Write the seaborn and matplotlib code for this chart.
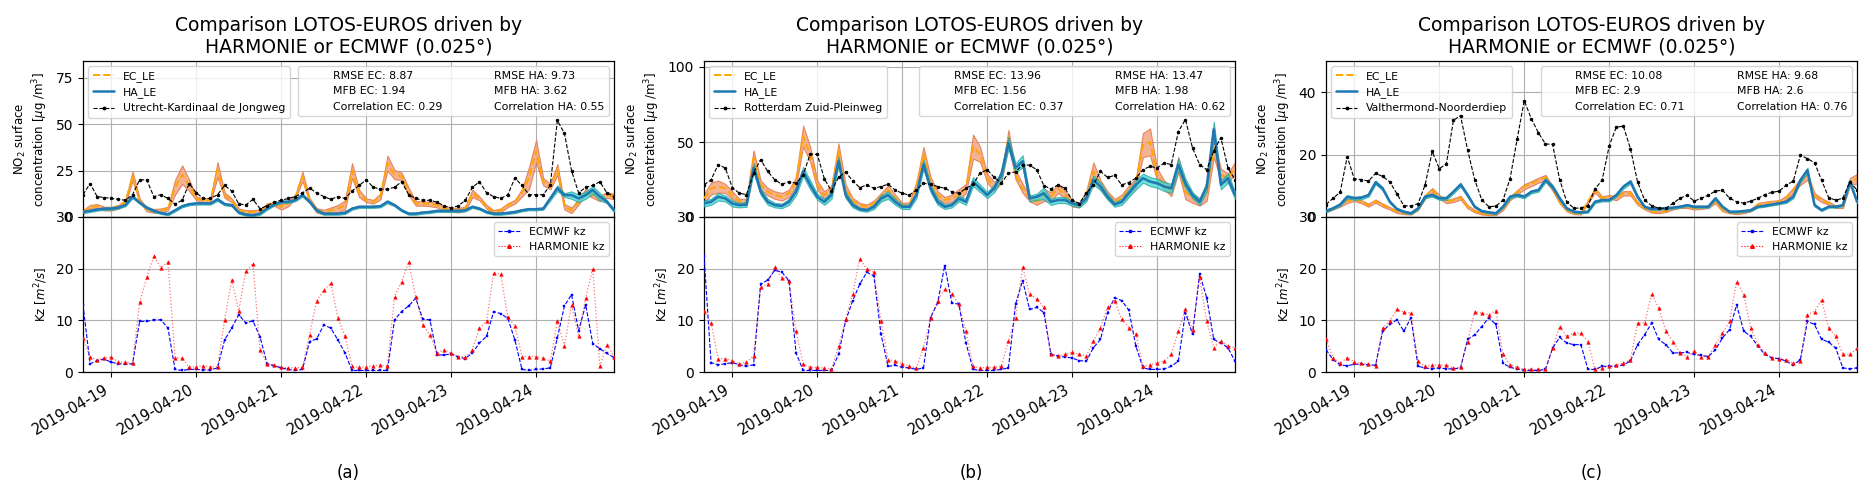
import numpy as np
import pandas as pd
import seaborn as sns
import matplotlib.pyplot as plt
import matplotlib.dates as mdates
from matplotlib.ticker import MultipleLocator
from matplotlib.lines import Line2D

# 2-hourly time axis, 2019-04-18 16:00 .. 2019-04-24 22:00
times = pd.date_range("2019-04-18 16:00", "2019-04-24 22:00", freq="2h")

stations = ["Utrecht-Kardinaal de Jongweg", "Rotterdam Zuid-Pleinweg", "Valthermond-Noorderdiep"]
rmse_ec = [8.87, 13.96, 10.08]
rmse_ha = [9.73, 13.47, 9.68]
mfb_ec = [1.94, 1.56, 2.9]
mfb_ha = [3.62, 1.98, 2.6]
corr_ec = [0.29, 0.37, 0.71]
corr_ha = [0.55, 0.62, 0.76]
panel_tags = ["(a)", "(b)", "(c)"]

# ---- (a) Utrecht ----
obs_a = [12, 18, 11, 10.5, 10, 9.5, 9, 12, 20, 20,
         11, 12, 10, 7, 9, 18, 13, 10, 10, 12,
         17, 14, 7, 6.5, 9.5, 4.5, 6, 8, 9, 10,
         11, 13, 15.5, 13, 11, 9.5, 11, 10, 14, 17,
         20, 16, 15, 15, 16, 19, 12, 10, 9, 9,
         8, 6, 5, 6, 9, 16, 19, 13, 11, 10,
         12, 21, 17, 12, 12, 12, 17, 52, 45, 25,
         13, 16, 17, 19, 13, 11]
ec_a = [2.7, 5.5, 5.8, 4.5, 4.5, 5.5, 8.2, 22, 9, 4,
        3.3, 3.6, 4.5, 16, 22.8, 17, 10, 9, 9, 25.5,
        11.8, 9, 3.6, 2.7, 2.7, 3, 6.4, 7, 5.5, 7.3,
        11, 21.9, 9, 3.6, 2.7, 3.6, 4.5, 6.4, 25, 12.7,
        9, 8.2, 11, 29, 22.8, 21.9, 13.7, 7.3, 7.3, 7,
        6.4, 4.5, 4, 3.6, 4.5, 12.7, 10, 5.5, 2.7, 3.6,
        6.4, 8.2, 13, 21, 35.5, 19, 16.4, 25.5, 5.5, 3.6,
        8.2, 13.7, 11.8, 10, 11.8, 11]
ec_spread_a = [1, 1, 1.2, 1, 1, 1, 1, 2.5, 1, 1,
               1, 1, 1, 4, 5, 3, 1, 1, 1, 4,
               1.5, 1, 1, 1, 1, 1, 1, 1, 1.5, 1.5,
               1, 2.5, 1.2, 1.2, 1.2, 1.5, 2, 2.5, 4, 2,
               1, 1, 1.5, 4, 2.5, 2, 2, 1.2, 1.2, 1.2,
               1.2, 1.2, 1.2, 1.2, 1.2, 2, 1, 1, 1, 1,
               1, 1, 2, 6, 6, 2, 1.5, 3, 1.5, 1.5,
               1.5, 1.5, 1.5, 1.5, 1.5, 1.5]
ha_a = [2.7, 3.3, 4, 4.5, 4.5, 5.1, 6.4, 11, 7.7, 5.1,
        3.3, 2.2, 1.5, 3.6, 5.8, 6.9, 7.3, 7.3, 7.3, 9.5,
        6.9, 6.4, 2.4, 1.3, 0.9, 1.8, 4.5, 6.7, 8.2, 8.2,
        9.1, 11.8, 8.2, 3.6, 1.8, 1.8, 1.8, 2.2, 4.5, 5.5,
        5.5, 5.5, 5.8, 8.2, 6.4, 3.6, 1.8, 1.8, 2.4, 2.7,
        3.3, 3.3, 3.3, 3.3, 3.6, 5.5, 4.5, 2.7, 1.8, 1.8,
        2.2, 2.7, 3.6, 4.2, 4.2, 4.5, 10, 15.5, 11.8, 11.8,
        10, 11.8, 14.6, 11, 8.2, 3.6]
ha_spread_a = [0.6, 0.6, 0.6, 0.6, 0.6, 0.6, 0.6, 0.8, 0.6, 0.6,
               0.6, 0.6, 0.6, 0.6, 0.6, 0.6, 0.6, 0.6, 0.6, 0.8,
               0.6, 0.6, 0.6, 0.6, 0.6, 0.6, 0.6, 0.6, 0.6, 0.6,
               0.6, 0.8, 0.6, 0.6, 0.6, 0.6, 0.6, 0.6, 0.6, 0.6,
               0.6, 0.6, 0.6, 0.8, 0.6, 0.6, 0.6, 0.6, 0.6, 0.6,
               0.6, 0.6, 0.6, 0.6, 0.6, 0.6, 0.6, 0.6, 0.6, 0.6,
               0.6, 0.6, 0.6, 0.6, 0.6, 0.6, 1, 1.5, 1, 2,
               2, 2, 2, 2, 0.8, 0.8]
kz_ec_a = [13, 1.6, 2.2, 2.5, 1.9, 1.6, 1.5, 1.6, 9.8, 9.8,
           10.1, 10.1, 8.5, 0.5, 0.3, 0.5, 0.5, 0.4, 0.4, 0.8,
           6.2, 8.5, 11.1, 9.5, 9.9, 6.8, 1.6, 1.2, 0.8, 0.5,
           0.3, 0.5, 5.9, 6.4, 9.1, 8.5, 6.2, 3.7, 0.3, 0.3,
           0.3, 0.3, 0.3, 0.3, 10.1, 11.7, 12.8, 14.3, 10.2, 10.1,
           3.3, 3.3, 3.5, 2.9, 2.6, 3.7, 5.6, 6.9, 11.7, 11.3,
           10.4, 6.2, 0.5, 0.3, 0.5, 0.6, 0.8, 6.6, 12.8, 15,
           8, 13, 5.5, 4.5, 3.6, 2.8]
kz_ha_a = [6.5, 2.9, 2.4, 2.7, 2.9, 1.9, 1.9, 1.7, 13.5, 18.3,
           22.4, 20.2, 21.3, 2.8, 2.7, 1, 1, 1.2, 1, 1,
           10.1, 17.8, 11.9, 19.5, 21, 4.3, 1.6, 1.4, 0.9, 0.8,
           0.8, 0.9, 7.2, 13.8, 15.8, 17.2, 10.5, 6.9, 1.1, 0.9,
           1, 1.2, 1.3, 1.2, 14.6, 17.5, 21.3, 14.5, 9.1, 7.2,
           3.7, 4.3, 3.7, 3, 2.9, 4.3, 8.5, 9.8, 19.2, 19,
           10.6, 8.9, 3, 3, 3, 2.7, 2.1, 9.9, 5, 13,
           6.9, 14.4, 20, 1.1, 5.3, 3]

# ---- (b) Rotterdam ----
obs_b = [21.4, 24.8, 35, 32.7, 19.6, 15.8, 15, 29.3, 38.3, 30.4,
         24.8, 21.8, 23.6, 22.5, 28, 42, 41.7, 25.5, 17.3, 26.4,
         30, 24.1, 19.6, 21.4, 19.1, 20.3, 21.8, 18, 15.8, 14.6,
         18, 22.5, 21.8, 20.3, 19.1, 16.9, 15.8, 19.1, 21.8, 29.3,
         31.5, 26.4, 22.5, 29.3, 30, 35, 34.5, 31.5, 21, 18.7,
         21.4, 19.1, 11.3, 9, 15.8, 21.4, 30.4, 26.4, 27.7, 21.4,
         23, 25.9, 31.5, 33.8, 32.7, 36, 35, 57, 65, 46,
         35, 31.5, 44, 53, 32.7, 24.8]
ec_b = [12.4, 19, 20.3, 19.1, 14.6, 10.1, 10.1, 39.4, 21.4, 16.9,
        14.6, 13.5, 15.8, 23.6, 54, 41.7, 21.4, 14.6, 18, 44,
        19.1, 10.6, 7.9, 6.8, 9, 13.5, 18, 12.4, 7.9, 8.3,
        20.3, 41.7, 23.6, 14.6, 11.3, 12.4, 14.6, 19.1, 47, 41.7,
        25.9, 20.3, 25.9, 53, 28.2, 19.1, 12.4, 10.1, 14.6, 13.5,
        19.1, 14.6, 9, 7.9, 14.6, 30.4, 21.4, 14.6, 10.1, 12.4,
        18, 22.5, 48, 50, 28.2, 21.4, 16.9, 35, 16.9, 12.4,
        10.1, 15.8, 46, 28.2, 25.9, 32.7]
ec_spread_b = [3, 4, 4, 3, 2.5, 2, 2, 5, 3, 2.5,
               2.5, 2.5, 2.5, 3, 7, 5, 3, 2.5, 3, 5,
               2.5, 2, 1.5, 1.5, 2, 2.5, 3, 2.5, 1.5, 1.5,
               3, 5, 3, 2.5, 2, 2.5, 4, 3, 8, 5,
               3, 3, 3, 5, 3, 3, 2, 2, 4, 3,
               3, 2.5, 2, 1.5, 3, 6, 3, 2.5, 2, 2.5,
               3, 3, 8, 9, 4, 3, 3, 5, 5, 3,
               2.5, 5, 6, 4, 3, 4]
ha_b = [9, 10.1, 13.5, 12.4, 9, 7.9, 8.3, 32.7, 16.9, 10.1,
        7.9, 7.4, 10.1, 16.9, 30.4, 21.4, 13.5, 10.1, 14.6, 37.2,
        14.6, 7.9, 5.2, 4.5, 6.8, 12.4, 14.6, 10.1, 6.8, 6.8,
        14.6, 35, 19.1, 10.1, 6.8, 7.9, 12.4, 10.1, 23.6, 19.1,
        14.6, 19.1, 28.2, 49.5, 32.7, 37.2, 12.4, 13.5, 15.8, 10.1,
        11.3, 11.3, 9, 7.9, 12.4, 24.8, 20.3, 13.5, 8.3, 10.1,
        15.8, 21.4, 25.9, 23.6, 22.5, 20.3, 19.1, 35, 22.5, 14.6,
        10.1, 20.3, 58.6, 21.4, 25.9, 14.6]
ha_spread_b = [2, 2, 2.5, 2, 2, 1.5, 1.5, 3, 2, 2,
               1.5, 1.5, 2, 2.5, 3, 3, 2, 2, 2.5, 3,
               2, 1.5, 1, 1, 1.5, 2, 2.5, 2, 1.5, 1.5,
               2, 3, 2.5, 2, 1.5, 1.5, 2, 2, 3, 2.5,
               2, 2.5, 3, 4, 3, 4, 2, 2, 4, 2,
               2, 2, 1.5, 1.5, 2, 3, 2.5, 2, 1.5, 2,
               2.5, 3, 3, 3, 3, 3, 3, 4, 3, 2,
               2, 3, 5, 3, 3, 2.5]
kz_ec_b = [22.5, 1.8, 1.4, 1.6, 1.8, 1.4, 1.1, 1.4, 17, 17.8,
           19.7, 19.3, 17.7, 3.7, 0.3, 0.3, 0.3, 0.3, 0.3, 3.4,
           9.9, 13.8, 17, 19.3, 18.6, 7.3, 1.1, 1.3, 0.9, 0.8,
           0.5, 0.8, 10.5, 13.4, 20.6, 13.4, 13.1, 5.6, 0.5, 0.3,
           0.3, 0.3, 0.5, 0.8, 13.1, 17.7, 12.1, 12.5, 11.5, 3.4,
           3.1, 2.9, 2.7, 2.2, 2.1, 4.7, 6.3, 11.5, 14.4, 13.8,
           12, 5, 0.8, 0.5, 0.5, 0.6, 1.1, 2.1, 11.5, 7.3,
           19, 14.4, 6.3, 5.6, 4.7, 2.1]
kz_ha_b = [11.8, 9.5, 2.6, 2.6, 2.2, 1.6, 1.9, 3.1, 16.4, 17.1,
           20.3, 18.2, 17.7, 7.9, 1.6, 0.9, 0.9, 0.8, 0.6, 5,
           10.2, 15.1, 21.9, 19.9, 19.3, 9.9, 2.4, 2.1, 1.6, 1.1,
           0.8, 4.7, 10.5, 13.8, 16, 15.1, 13.1, 7.9, 1.1, 0.8,
           0.9, 0.9, 1.1, 6, 10.5, 20.3, 15.1, 14.1, 12.5, 3.4,
           3.1, 3.4, 3.8, 3.5, 3.1, 6, 8.6, 12.5, 13.8, 10.2,
           8.6, 7.3, 1.1, 1.4, 1.8, 2.1, 3.4, 7.9, 12.1, 8.2,
           18.3, 9.9, 4.7, 6, 5, 4.7]

# ---- (c) Valthermond ----
obs_c = [4, 6, 8, 19.3, 12.2, 12, 11.5, 14, 13, 11.3,
         7.5, 3.6, 3.5, 4.3, 10.3, 21, 15.5, 17, 31, 32.5,
         21.5, 12, 5.5, 3.3, 3.5, 5.4, 12.3, 25, 37.3, 31.5,
         27, 23.4, 23.3, 12, 4.9, 2.8, 2.9, 3.6, 9, 11.8,
         22.8, 28.8, 29.1, 21.9, 11.3, 5.4, 3.6, 2.8, 2.8, 4.4,
         6, 7, 5.1, 6, 7, 8.3, 8.6, 6, 4.9, 4.4,
         5.1, 6, 7.2, 7.9, 8.3, 10.2, 11.5, 19.8, 18.7, 17.4,
         11.8, 6.2, 5.4, 6, 11.3, 8.6]
ec_c = [1.9, 2.8, 3.8, 5.1, 5.7, 4.9, 3.8, 5.1, 3.8, 2.8,
        1.7, 1.2, 1.1, 2.6, 6.5, 8.6, 6.5, 4.9, 5.4, 6.2,
        3.3, 1.9, 1.1, 0.9, 0.9, 2.6, 6, 7.9, 9.7, 10.7,
        11.8, 12.6, 9.1, 4.9, 2.2, 1.2, 1.1, 4.9, 8.6, 6,
        6.5, 6, 7.6, 7.6, 4.4, 2.8, 1.7, 1.5, 1.9, 2.8,
        3.3, 3.3, 2.8, 3, 3.3, 4.9, 2.2, 1.5, 1.2, 1.5,
        2.2, 4, 4.4, 4.7, 4.9, 6.2, 8.6, 11.3, 12.9, 7,
        5.4, 4.4, 3.3, 3.3, 11.3, 12.3]
ec_spread_c = [0.4, 0.4, 0.5, 0.6, 0.6, 0.5, 0.5, 0.5, 0.5, 0.4,
               0.4, 0.3, 0.3, 0.4, 0.6, 0.7, 0.6, 0.5, 0.6, 0.6,
               0.5, 0.4, 0.3, 0.3, 0.3, 0.4, 0.6, 0.7, 0.8, 0.8,
               0.8, 0.9, 0.7, 0.5, 0.4, 0.3, 0.3, 0.5, 0.7, 0.6,
               0.6, 0.6, 0.7, 0.7, 0.5, 0.4, 0.3, 0.3, 0.3, 0.4,
               0.4, 0.4, 0.4, 0.4, 0.4, 0.5, 0.4, 0.3, 0.3, 0.3,
               0.4, 0.5, 0.5, 0.5, 0.5, 0.6, 0.8, 1, 1, 0.7,
               0.6, 0.5, 0.4, 0.4, 1.2, 1.5]
ha_c = [1.9, 2.8, 4, 6.5, 6, 6.2, 7, 11.1, 9.1, 4.9,
        2.6, 1.7, 1.2, 2.8, 6.5, 7, 6, 6, 8.1, 10.4,
        7, 3.3, 1.9, 1.5, 1.2, 3.3, 6.5, 7, 6.5, 8.1,
        8.6, 11.8, 9.7, 6, 2.8, 1.7, 1.5, 1.7, 4.9, 5.4,
        5.4, 7, 9.7, 11.3, 6.5, 3.3, 2.6, 2.6, 2.8, 3,
        3.3, 3.8, 3.3, 3.3, 3.3, 6, 3.3, 1.7, 1.7, 1.9,
        2.2, 3.3, 3.6, 4, 4.4, 4.9, 6.5, 11.8, 15, 3.8,
        2.2, 3.3, 3.3, 3.8, 11.3, 4.9]
ha_spread_c = [0.3, 0.3, 0.4, 0.5, 0.5, 0.5, 0.5, 0.6, 0.5, 0.4,
               0.3, 0.3, 0.3, 0.3, 0.5, 0.5, 0.5, 0.5, 0.5, 0.6,
               0.5, 0.3, 0.3, 0.3, 0.3, 0.3, 0.5, 0.5, 0.5, 0.5,
               0.5, 0.6, 0.6, 0.5, 0.3, 0.3, 0.3, 0.3, 0.4, 0.4,
               0.4, 0.5, 0.6, 0.6, 0.5, 0.3, 0.3, 0.3, 0.3, 0.3,
               0.3, 0.3, 0.3, 0.3, 0.3, 0.4, 0.3, 0.3, 0.3, 0.3,
               0.3, 0.3, 0.3, 0.3, 0.3, 0.4, 0.5, 0.7, 0.8, 0.4,
               0.3, 0.3, 0.3, 0.3, 0.6, 0.4]
kz_ec_c = [4.3, 2.4, 1.4, 1.2, 1.5, 1.5, 1.4, 1.3, 7.9, 9.2,
           10.1, 7.9, 10.5, 1.1, 0.8, 0.6, 0.8, 0.6, 0.6, 0.8,
           6.3, 7.2, 8.8, 10.5, 9.2, 1.7, 0.9, 0.6, 0.3, 0.3,
           0.3, 0.5, 4.6, 6.7, 5.6, 5.3, 5.3, 0.5, 0.5, 1.1,
           1.1, 1.1, 1.4, 2.1, 5.3, 7.2, 9.5, 6.3, 5.3, 3.7,
           3.7, 3.8, 3.4, 3.2, 3, 4.3, 6.6, 8.2, 13, 7.9,
           6.9, 5, 3.4, 2.7, 2.6, 2.1, 1.3, 2.4, 9.8, 9.2,
           6.3, 5.8, 4.6, 0.8, 0.6, 0.8]
kz_ha_c = [6.3, 2.7, 1.7, 2.8, 1.9, 1.7, 1.5, 1.1, 8.5, 9.8,
           12.1, 11.6, 11.4, 2.1, 1.1, 1.3, 1.4, 1.3, 0.8, 0.9,
           5.9, 11.7, 11.4, 11.1, 11.9, 3.4, 1.4, 0.9, 0.5, 0.5,
           0.5, 0.5, 4.6, 8.8, 6.9, 7.5, 7.5, 5.9, 0.5, 0.8,
           1.1, 1.4, 1.7, 2.4, 9.5, 9.5, 15.1, 12.4, 7.9, 5.9,
           3.7, 3, 4, 3, 3, 5.3, 7.5, 9.8, 17.5, 15,
           8.5, 5.3, 3.7, 2.8, 2.6, 2.4, 1.7, 2.1, 11.1, 11.7,
           14, 8.5, 6.9, 3.4, 3.4, 4.6]

obs_all = [obs_a, obs_b, obs_c]
ec_all = [ec_a, ec_b, ec_c]
ec_spread_all = [ec_spread_a, ec_spread_b, ec_spread_c]
ha_all = [ha_a, ha_b, ha_c]
ha_spread_all = [ha_spread_a, ha_spread_b, ha_spread_c]
kz_ec_all = [kz_ec_a, kz_ec_b, kz_ec_c]
kz_ha_all = [kz_ha_a, kz_ha_b, kz_ha_c]

no2_top = [84, 104, 50]
no2_step = [25, 50, 20]

sns.set_theme(style="ticks", rc={
    "axes.edgecolor": "black", "axes.linewidth": 0.9,
    "text.color": "black", "axes.labelcolor": "black",
    "xtick.color": "black", "ytick.color": "black",
    "grid.color": "#b0b0b0", "grid.linewidth": 0.8,
})
plt.rcParams["font.family"] = ["DejaVu Sans"]

fig = plt.figure(figsize=(18.75, 5.01), dpi=100)
lefts = [83 / 1875, 704 / 1875, 1326 / 1875]
width = 531 / 1875
tag_x = [348 / 1875, 971 / 1875, 1592 / 1875]

title = "Comparison LOTOS-EUROS driven by\nHARMONIE or ECMWF (0.025°)"

for i in range(3):
    ax = fig.add_axes([lefts[i], 1 - 217 / 501, width, 156 / 501])
    axk = fig.add_axes([lefts[i], 1 - 372 / 501, width, 155 / 501], sharex=ax)

    ec = np.array(ec_all[i])
    ecs = np.array(ec_spread_all[i])
    ha = np.array(ha_all[i])
    has = np.array(ha_spread_all[i])

    # NO2 panel
    ax.fill_between(times, ec - ecs, ec + ecs, facecolor="#f4a582", alpha=0.85,
                    edgecolor="#e2774c", linewidth=0.8, zorder=2)
    sns.lineplot(x=times, y=ec, ax=ax, color="orange", linestyle="--",
                 linewidth=1.4, errorbar=None, zorder=3)
    ax.fill_between(times, ha - has, ha + has, facecolor="#3ed8d0", alpha=0.75,
                    edgecolor="#1ea59f", linewidth=0.8, zorder=4)
    sns.lineplot(x=times, y=ha, ax=ax, color="#1f77b4", linewidth=1.8,
                 errorbar=None, zorder=5)
    sns.lineplot(x=times, y=obs_all[i], ax=ax, color="black", linestyle="--",
                 linewidth=0.8, marker=".", markersize=3.5, markeredgecolor="black",
                 errorbar=None, zorder=6)

    # Kz panel
    sns.lineplot(x=times, y=kz_ec_all[i], ax=axk, color="blue", linestyle="--",
                 linewidth=0.8, marker="s", markersize=1.8, markeredgecolor="blue",
                 markeredgewidth=0.3, errorbar=None, zorder=3)
    # HARMONIE: pale dotted line, solid red markers
    sns.lineplot(x=times, y=kz_ha_all[i], ax=axk, color="red", linestyle=":",
                 linewidth=0.9, alpha=0.55, errorbar=None, zorder=4)
    sns.lineplot(x=times, y=kz_ha_all[i], ax=axk, color="red", linestyle="none",
                 marker="^", markersize=2.6, markeredgecolor="red",
                 markeredgewidth=0.3, errorbar=None, zorder=4)

    ax.set_xlim(times[0], times[-1])
    ax.set_ylim(0, no2_top[i])
    ax.yaxis.set_major_locator(MultipleLocator(no2_step[i]))
    axk.set_ylim(0, 30)
    axk.yaxis.set_major_locator(MultipleLocator(10))
    axk.xaxis.set_major_locator(mdates.DayLocator())
    axk.xaxis.set_major_formatter(mdates.DateFormatter("%Y-%m-%d"))

    for a in (ax, axk):
        a.grid(True)
        a.tick_params(axis="y", labelsize=10, length=3.5, width=0.8)
    ax.tick_params(axis="x", labelbottom=False, length=0)
    axk.tick_params(axis="x", labelsize=10.5, length=3.5, width=0.8)
    plt.setp(axk.get_xticklabels(), rotation=30, ha="right")

    ax.set_xlabel("")
    axk.set_xlabel("")
    ax.set_ylabel("NO$_2$ surface\nconcentration [$\\mu$g /m$^3$]", fontsize=8.5)
    axk.set_ylabel("Kz [$m^2/s$]", fontsize=8.5)
    ax.set_title(title, fontsize=13.5)

    h_ec = Line2D([], [], color="orange", linestyle="--", linewidth=1.4)
    h_ha = Line2D([], [], color="#1f77b4", linewidth=1.8)
    h_obs = Line2D([], [], color="black", linestyle="--", linewidth=0.8,
                   marker=".", markersize=3.5)
    leg = ax.legend([h_ec, h_ha, h_obs], ["EC_LE", "HA_LE", stations[i]],
                    loc="upper left", fontsize=7.8, frameon=True)
    ax.add_artist(leg)
    blank = [Line2D([], [], linestyle="none") for _ in range(6)]
    stats = [f"RMSE EC: {rmse_ec[i]}", f"MFB EC: {mfb_ec[i]}",
             f"Correlation EC: {corr_ec[i]}",
             f"RMSE HA: {rmse_ha[i]}", f"MFB HA: {mfb_ha[i]}",
             f"Correlation HA: {corr_ha[i]}"]
    ax.legend(blank, stats, loc="upper right", ncol=2, fontsize=7.8, frameon=True)

    hk1 = Line2D([], [], color="blue", linestyle="--", linewidth=0.8,
                 marker="s", markersize=1.8)
    hk2 = Line2D([], [], color="red", linestyle=":", linewidth=0.8,
                 marker="^", markersize=2.6)
    axk.legend([hk1, hk2], ["ECMWF kz", "HARMONIE kz"], loc="upper right",
               fontsize=7.8, frameon=True)

    fig.text(tag_x[i], 1 - 473 / 501, panel_tags[i], ha="center", va="center",
             fontsize=12)

fig.savefig("out.png", dpi=100)
